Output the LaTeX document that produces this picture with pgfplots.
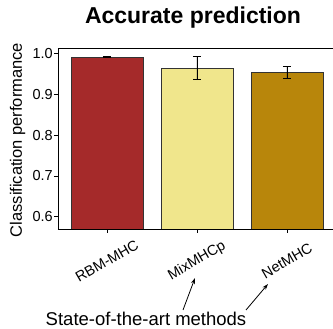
\documentclass[border=0pt]{standalone}
\usepackage{fontspec}
\setmainfont{Liberation Sans}
\usepackage{pgfplots}
\pgfplotsset{compat=1.18}
\usetikzlibrary{arrows.meta}
\definecolor{c1}{RGB}{165,42,42}
\definecolor{c2}{RGB}{240,230,140}
\definecolor{c3}{RGB}{184,134,11}
\begin{document}
\begin{tikzpicture}
\useasboundingbox (-58pt,-100pt) rectangle (275pt,229pt);
\begin{axis}[
  at={(0,0)}, anchor=south west,
  scale only axis, width=275pt, height=181pt,
  xmin=-0.544, xmax=2.512, ymin=0.57, ymax=1.0135,
  axis x line*=box, axis y line*=left,
  xtick pos=left, ytick pos=left,
  tick align=outside, major tick length=4pt,
  axis line style={line width=0.8pt},
  tick style={line width=0.8pt, black},
  xtick={0,1,2}, xticklabels={RBM-MHC,MixMHCp,NetMHC},
  ytick={0.6,0.7,0.8,0.9,1.0},
  /pgf/number format/assume math mode=true,
  yticklabel style={/pgf/number format/fixed, /pgf/number format/fixed zerofill, /pgf/number format/precision=1, font=\fontsize{14.5}{16}\selectfont, inner xsep=1pt},
  xticklabel style={anchor=center, yshift=-28pt, rotate=30, font=\fontsize{14.5}{16}\selectfont},
  ybar, bar width=72pt, bar shift=0pt,
  error bars/y dir=both, error bars/y explicit,
  error bars/error mark options={rotate=90, mark size=4pt, line width=0.8pt},
  error bars/error bar style={line width=0.8pt, black},
]
\addplot[fill=c1, draw=black!80, line width=0.7pt] coordinates {(0,0.991) +- (0,0.0015)};
\addplot[fill=c2, draw=black!80, line width=0.7pt] coordinates {(1,0.964) +- (0,0.028)};
\addplot[fill=c3, draw=black!80, line width=0.7pt] coordinates {(2,0.954) +- (0,0.0145)};
\end{axis}
\node[anchor=base, font=\fontsize{23}{26}\selectfont\bfseries] at (135pt,205.7pt) {Accurate prediction};
\node[rotate=90, anchor=center, font=\fontsize{16.5}{18}\selectfont] at (-40.5pt,89pt) {Classification performance};
\node[anchor=base, font=\fontsize{18.5}{20}\selectfont] at (88pt,-97pt) {State-of-the-art methods};
\draw[-{Stealth[length=6pt,width=4pt]}, line width=0.8pt] (125pt,-81pt) -- (137pt,-49pt);
\draw[-{Stealth[length=6pt,width=4pt]}, line width=0.8pt] (188pt,-81pt) -- (210pt,-55pt);
\end{tikzpicture}
\end{document}
